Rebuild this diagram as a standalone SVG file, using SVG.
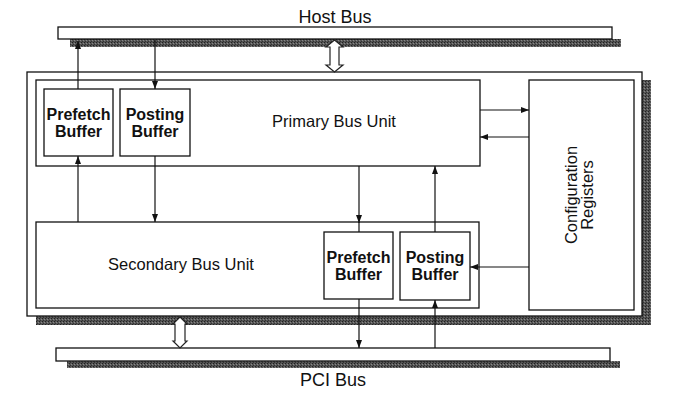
<svg xmlns="http://www.w3.org/2000/svg" width="687" height="402" viewBox="0 0 687 402">
<defs>
<marker id="ah" markerWidth="8" markerHeight="6" refX="8" refY="3" orient="auto" markerUnits="userSpaceOnUse">
<path d="M0,0 L8,3 L0,6 z" fill="#111"/>
</marker>
<pattern id="dither" width="3" height="3" patternUnits="userSpaceOnUse">
<rect width="3" height="3" fill="#555"/>
<rect width="1" height="1" fill="#222"/>
<rect x="2" y="1" width="1" height="1" fill="#888"/>
<rect x="1" y="2" width="1" height="1" fill="#333"/>
</pattern>
</defs>
<style>
.box{fill:#fff;stroke:#111;stroke-width:1.3}
.shadow{fill:url(#dither);stroke:none}
.conn{stroke:#111;stroke-width:1.2;fill:none}
.hollow{fill:#fff;stroke:#222;stroke-width:1.2}
.lbl{font-family:"Liberation Sans",Arial,sans-serif;font-size:16.5px;fill:#111;text-anchor:middle}
.bus{font-family:"Liberation Sans",Arial,sans-serif;font-size:18px;fill:#111;text-anchor:middle}
.buf{font-family:"Liberation Sans",Arial,sans-serif;font-size:16px;font-weight:bold;fill:#111;text-anchor:middle}
</style>
<rect width="687" height="402" fill="#fff"/>

<g id="host-bus">
<rect class="shadow" x="70" y="39" width="551" height="8"/>
<rect class="box" x="58" y="27" width="554" height="12"/>
<text class="bus" x="335" y="23">Host Bus</text>
</g>

<g id="bridge">
<rect class="shadow" x="642" y="80" width="9" height="245"/>
<rect class="shadow" x="36" y="316" width="615" height="9"/>
<rect class="box" x="27" y="72" width="615" height="244" stroke-width="1.5"/>
</g>

<g id="primary-bus-unit">
<rect class="box" x="36" y="80" width="444" height="86"/>
<text class="lbl" x="334" y="127">Primary Bus Unit</text>
</g>

<g id="primary-prefetch-buffer">
<rect class="box" x="44" y="89" width="69" height="67"/>
<text class="buf" x="78.5" y="120">Prefetch</text>
<text class="buf" x="78.5" y="137">Buffer</text>
</g>

<g id="primary-posting-buffer">
<rect class="box" x="120" y="89" width="70" height="67"/>
<text class="buf" x="155" y="120">Posting</text>
<text class="buf" x="155" y="137">Buffer</text>
</g>

<g id="secondary-bus-unit">
<rect class="box" x="36" y="222" width="443" height="86"/>
<text class="lbl" x="181" y="270">Secondary Bus Unit</text>
</g>

<g id="secondary-prefetch-buffer">
<rect class="box" x="324" y="232" width="69" height="67"/>
<text class="buf" x="358.5" y="263">Prefetch</text>
<text class="buf" x="358.5" y="280">Buffer</text>
</g>

<g id="secondary-posting-buffer">
<rect class="box" x="400" y="232" width="70" height="68"/>
<text class="buf" x="435" y="263">Posting</text>
<text class="buf" x="435" y="280">Buffer</text>
</g>

<g id="configuration-registers">
<rect class="box" x="529" y="80" width="105" height="230"/>
<text class="lbl" transform="translate(577,195) rotate(-90)"><tspan x="0" y="0">Configuration</tspan><tspan x="0" y="15.5">Registers</tspan></text>
</g>

<g id="pci-bus">
<rect class="shadow" x="67" y="361" width="553" height="7"/>
<rect class="box" x="56" y="348" width="554" height="13"/>
<text class="bus" x="333" y="386">PCI Bus</text>
</g>

<g id="connectors">
<line class="conn" x1="78" y1="89" x2="78" y2="41" marker-end="url(#ah)"/>
<line class="conn" x1="155" y1="40" x2="155" y2="89" marker-end="url(#ah)"/>
<line class="conn" x1="78" y1="222" x2="78" y2="156" marker-end="url(#ah)"/>
<line class="conn" x1="155" y1="156" x2="155" y2="222" marker-end="url(#ah)"/>
<line class="conn" x1="480" y1="110" x2="529" y2="110" marker-end="url(#ah)"/>
<line class="conn" x1="529" y1="137" x2="480" y2="137" marker-end="url(#ah)"/>
<line class="conn" x1="529" y1="267" x2="470" y2="267" marker-end="url(#ah)"/>
<line class="conn" x1="359" y1="166" x2="359" y2="223" marker-end="url(#ah)"/>
<line class="conn" x1="359" y1="222" x2="359" y2="232"/>
<line class="conn" x1="435" y1="232" x2="435" y2="166" marker-end="url(#ah)"/>
<line class="conn" x1="359" y1="299" x2="359" y2="348" marker-end="url(#ah)"/>
<line class="conn" x1="435" y1="348" x2="435" y2="300" marker-end="url(#ah)"/>
<path class="hollow" d="M334.5,40 L343,47 L339,47 L339,65 L343,65 L334.5,72 L326,65 L330,65 L330,47 L326,47 Z"/>
<path class="hollow" d="M180,317 L187,324 L185,324 L185,341 L187,341 L180,348 L173,341 L175,341 L175,324 L173,324 Z"/>
</g>
</svg>
